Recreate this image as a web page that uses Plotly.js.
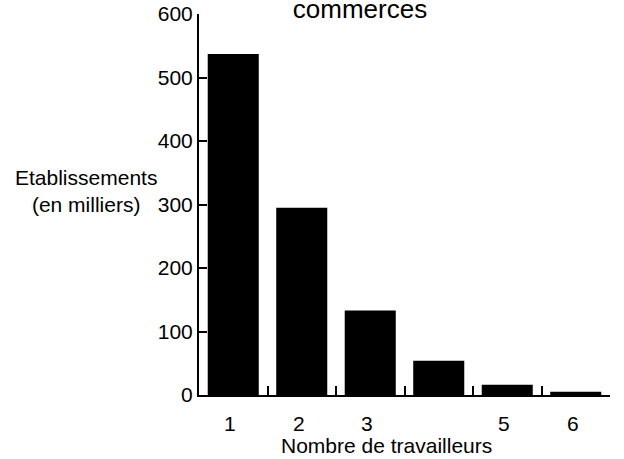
<!DOCTYPE html>
<html>
<head>
<meta charset="utf-8">
<script src="https://cdn.plot.ly/plotly-3.0.1.min.js"></script>
<style>html,body{margin:0;padding:0;background:#fff;}#chart{width:624px;height:459px;}</style>
</head>
<body>
<div id="chart"></div>
<script>
const categories = [1, 2, 3, 4, 5, 6];
const tickLabels = ['1', '2', '3', '', '5', '6'];
const etablissements = [537, 295, 133, 54, 16, 5];
const boundaries = [0.5, 1.5, 2.5, 3.5, 4.5, 5.5, 6.5];
const yTicks = [0, 100, 200, 300, 400, 500, 600];

const FONT = 'Arial, "Liberation Sans", Helvetica, sans-serif';
const FS = 21;

const data = [{
  type: 'bar',
  x: categories,
  y: etablissements,
  width: 0.745,
  marker: {color: '#000000', line: {width: 0}},
  hoverinfo: 'x+y'
}];

const labelAnnotations = categories.map((c, i) => ({
  text: tickLabels[i],
  xref: 'x', yref: 'paper',
  x: c, y: (394.5 - 423) / 380.5,
  xanchor: 'center', yanchor: 'middle',
  xshift: -3,
  showarrow: false,
  font: {family: FONT, size: FS, color: '#000000'}
})).filter(a => a.text !== '');

const layout = {
  width: 624,
  height: 459,
  margin: {l: 199, r: 14, t: 14, b: 64, pad: 0},
  paper_bgcolor: '#ffffff',
  plot_bgcolor: '#ffffff',
  showlegend: false,
  font: {family: FONT, size: FS, color: '#000000'},
  title: {
    text: 'commerces',
    font: {family: FONT, size: 26, color: '#000000', weight: 'normal'},
    x: 360 / 624, xanchor: 'center', xref: 'container',
    y: 1, yanchor: 'top', yref: 'container', pad: {t: 0}
  },
  xaxis: {
    range: [0.5, 6.5],
    tickmode: 'array',
    tickvals: boundaries,
    ticks: 'inside', ticklen: 9, tickwidth: 2, tickcolor: '#000000',
    showticklabels: false,
    showline: true, linewidth: 2, linecolor: '#000000',
    showgrid: false, zeroline: false,
    fixedrange: true
  },
  yaxis: {
    range: [0, 600],
    tickmode: 'array',
    tickvals: yTicks,
    ticks: 'inside', ticklen: 8, tickwidth: 2, tickcolor: '#000000',
    showline: true, linewidth: 2, linecolor: '#000000',
    showgrid: false, zeroline: false,
    tickfont: {family: FONT, size: FS, color: '#000000'},
    fixedrange: true
  },
  annotations: labelAnnotations.concat([{
    text: 'Etablissements<br>(en milliers)',
    xref: 'paper', yref: 'paper',
    x: (86 - 199) / 411, y: (394.5 - 190.5) / 380.5,
    xanchor: 'center', yanchor: 'middle',
    showarrow: false, align: 'center',
    font: {family: FONT, size: FS, color: '#000000'}
  }, {
    text: 'Nombre de travailleurs',
    xref: 'paper', yref: 'paper',
    x: (386 - 199) / 411, y: (394.5 - 445) / 380.5,
    xanchor: 'center', yanchor: 'middle',
    showarrow: false,
    font: {family: FONT, size: FS, color: '#000000'}
  }])
};

Plotly.newPlot('chart', data, layout, {displayModeBar: false, staticPlot: true});
</script>
</body>
</html>
